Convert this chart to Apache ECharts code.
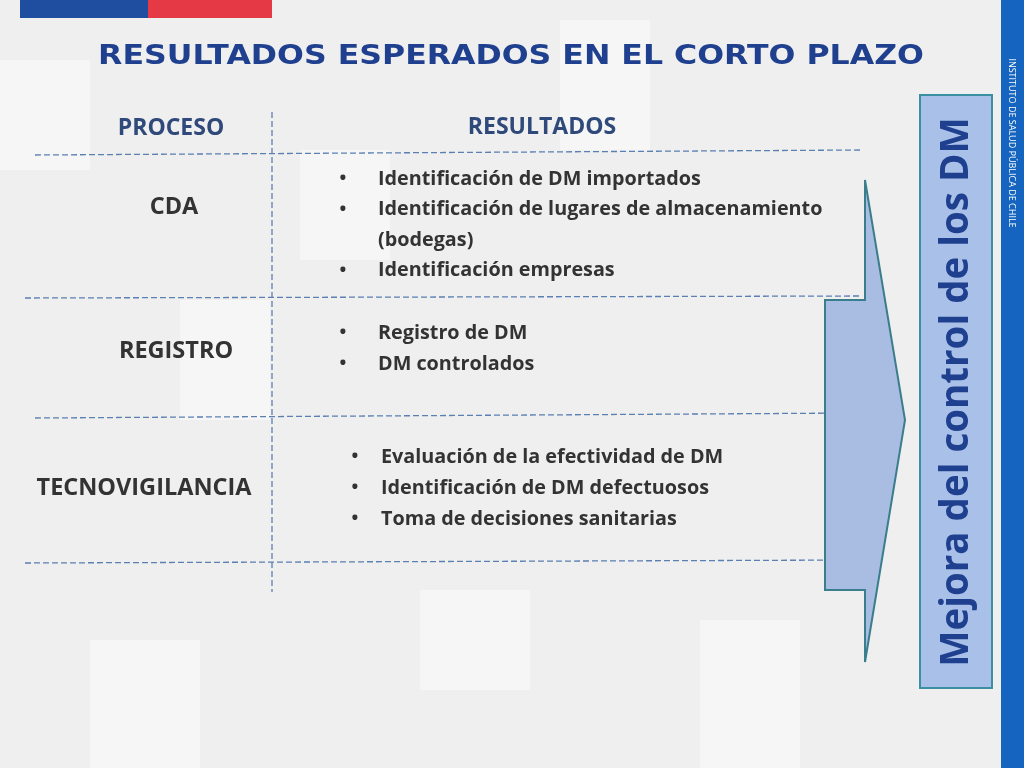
<!DOCTYPE html>
<html>
<head>
<meta charset="utf-8">
<script src="https://cdn.jsdelivr.net/npm/echarts@6/dist/echarts.min.js"></script>
<style>
  html, body { margin: 0; padding: 0; }
  #main { width: 1024px; height: 768px; }
</style>
</head>
<body>
<div id="main"></div>
<script>
// slide content
const title = "RESULTADOS ESPERADOS EN EL CORTO PLAZO";
const headers = ["PROCESO", "RESULTADOS"];
const procesos = ["CDA", "REGISTRO", "TECNOVIGILANCIA"];
const procesoY = [207, 351, 488];
const resultadosCDA = ["Identificación de DM importados", "Identificación de lugares de almacenamiento", "(bodegas)", "Identificación empresas"];
const resultadosRegistro = ["Registro de DM", "DM controlados"];
const resultadosTecno = ["Evaluación de la efectividad de DM", "Identificación de DM defectuosos", "Toma de decisiones sanitarias"];
const conclusion = "Mejora del control de los DM";
const institucion = "INSTITUTO DE SALUD PÚBLICA DE CHILE";

const font = "'Open Sans', 'Noto Sans', sans-serif";
const dark = "#333333";
const navy = "#1f3f8f";

const chart = echarts.init(document.getElementById("main"));
const g = [];

// background
g.push({ type: "rect", shape: { x: 0, y: 0, width: 1024, height: 768 }, style: { fill: "#efefef" }, z: 0 });
// faint block pattern
[[0, 60, 90, 110], [180, 300, 90, 120], [420, 590, 110, 100], [560, 20, 90, 130], [90, 640, 110, 128], [700, 620, 100, 148], [300, 150, 90, 110]].forEach(b => {
  g.push({ type: "rect", shape: { x: b[0], y: b[1], width: b[2], height: b[3] }, style: { fill: "#f6f6f6" }, z: 0 });
});
// top bars
g.push({ type: "rect", shape: { x: 20, y: 0, width: 128, height: 18 }, style: { fill: "#1f4ea0" }, z: 1 });
g.push({ type: "rect", shape: { x: 148, y: 0, width: 124, height: 18 }, style: { fill: "#e63946" }, z: 1 });
// right strip
g.push({ type: "rect", shape: { x: 1001, y: 0, width: 23, height: 768 }, style: { fill: "#1565c0" }, z: 1 });
g.push({ type: "text", x: 1012, y: 143, rotation: -Math.PI / 2,
  style: { text: institucion, fill: "#ffffff", font: "9px " + font, align: "center", verticalAlign: "middle" }, z: 2 });

// title and headers
g.push({ type: "text", x: 511, y: 57, scaleX: 1.17,
  style: { text: title, fill: navy, font: "bold 27px 'DejaVu Sans', Verdana, sans-serif", align: "center", verticalAlign: "middle" }, z: 2 });
g.push({ type: "text", x: 171, y: 128, style: { text: headers[0], fill: "#2f4a7a", font: "bold 23px " + font, align: "center", verticalAlign: "middle" }, z: 2 });
g.push({ type: "text", x: 542, y: 127, style: { text: headers[1], fill: "#2f4a7a", font: "bold 23px " + font, align: "center", verticalAlign: "middle" }, z: 2 });

// dashed lines
const lineStyle = { stroke: "#5b7fb3", lineWidth: 1.3, lineDash: [6, 3] };
[[35, 155, 862, 150], [25, 298, 860, 296], [35, 418, 860, 413], [25, 563, 862, 560]].forEach(l => {
  g.push({ type: "line", shape: { x1: l[0], y1: l[1], x2: l[2], y2: l[3] }, style: lineStyle, z: 2 });
});
g.push({ type: "line", shape: { x1: 272, y1: 112, x2: 272, y2: 592 }, style: lineStyle, z: 2 });

// process labels
procesos.forEach((p, i) => {
  g.push({ type: "text", x: [174, 176, 144][i], y: procesoY[i],
    style: { text: p, fill: dark, font: "bold 23.5px " + font, align: "center", verticalAlign: "middle" }, z: 2 });
});

// bullet lists
function bullets(items, bx, tx, y0, step, noBullet) {
  items.forEach((t, i) => {
    const y = y0 + i * step;
    if (!noBullet.includes(i)) {
      g.push({ type: "text", x: bx, y: y, style: { text: "•", fill: dark, font: "bold 18px " + font, align: "center", verticalAlign: "middle" }, z: 2 });
    }
    g.push({ type: "text", x: tx, y: y, style: { text: t, fill: dark, font: "bold 19.8px " + font, align: "left", verticalAlign: "middle" }, z: 2 });
  });
}
bullets(resultadosCDA, 343, 378, 179, 30.5, [2]);
bullets(resultadosRegistro, 343, 378, 333, 31, []);
bullets(resultadosTecno, 355, 381, 457, 31, []);

// arrow
g.push({ type: "polygon",
  shape: { points: [[825, 300], [865, 300], [865, 180], [905, 420], [865, 662], [865, 590], [825, 590]] },
  style: { fill: "#a9bde2", stroke: "#3a7d8c", lineWidth: 2 }, z: 3 });

// conclusion box
g.push({ type: "rect", shape: { x: 920, y: 95, width: 72, height: 593 }, style: { fill: "#a9c0e8", stroke: "#3a8fa0", lineWidth: 2 }, z: 3 });
g.push({ type: "text", x: 957, y: 392, rotation: Math.PI / 2,
  style: { text: conclusion, fill: navy, font: "bold 38.5px " + font, align: "center", verticalAlign: "middle" }, z: 4 });

chart.setOption({ animation: false, graphic: g });
</script>
</body>
</html>
